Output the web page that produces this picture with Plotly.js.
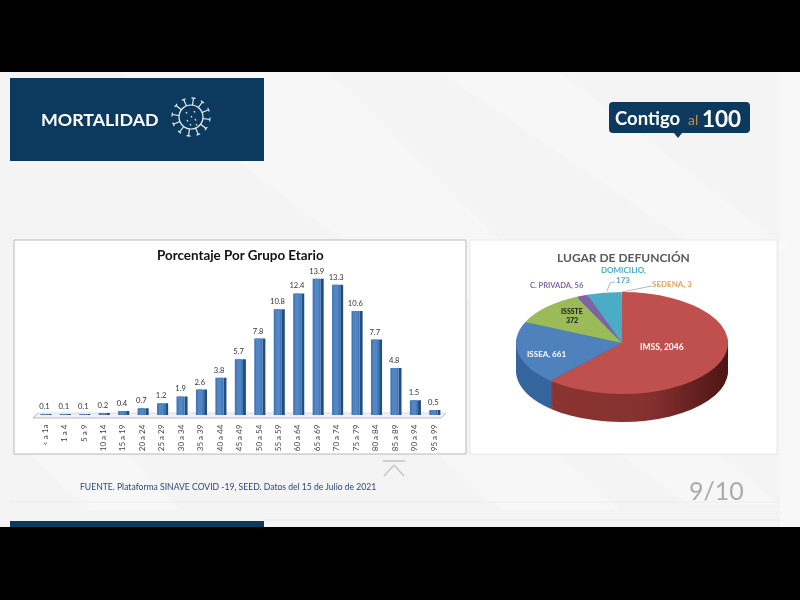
<!DOCTYPE html>
<html><head><meta charset="utf-8">
<script src="https://cdn.plot.ly/plotly-3.0.1.min.js"></script>
<style>html,body{margin:0;padding:0;background:#000}#c{width:800px;height:600px;filter:blur(0.35px)}</style>
</head><body><div id="c"></div>
<script>
const ageGroups=['< a 1a','1 a 4','5 a 9','10 a 14','15 a 19','20 a 24','25 a 29','30 a 34','35 a 39','40 a 44','45 a 49','50 a 54','55 a 59','60 a 64','65 a 69','70 a 74','75 a 79','80 a 84','85 a 89','90 a 94','95 a 99'];
const agePercent=[0.1,0.1,0.1,0.2,0.4,0.7,1.2,1.9,2.6,3.8,5.7,7.8,10.8,12.4,13.9,13.3,10.6,7.7,4.8,1.5,0.5];
const places=['IMSS','ISSEA','ISSSTE','C. PRIVADA','DOMICILIO','SEDENA'];
const deaths=[2046,661,372,56,173,3];
const topColors=['#c0504d','#4f81bd','#9bbb59','#8064a2','#4bacc6','#f79646'];
const rimColors=['#7e2b29','#35659c','#6f8a3a','#5a4477','#327f93','#b06a2e'];

const X=v=>v/800, Y=v=>1-v/600;
const FONT='Lato, "Open Sans", sans-serif';
const shapes=[];
function rect(x0,y0,x1,y1,fill,line,lw){shapes.push({type:'rect',xref:'paper',yref:'paper',x0:X(x0),x1:X(x1),y0:Y(y0),y1:Y(y1),fillcolor:fill,line:{color:line||fill,width:line?(lw||1):0},layer:'below'});}
function seg(x0,y0,x1,y1,color,w){shapes.push({type:'line',xref:'paper',yref:'paper',x0:X(x0),x1:X(x1),y0:Y(y0),y1:Y(y1),line:{color:color,width:w||1},layer:'below'});}
function poly(pts,fill,op){shapes.push({type:'path',xref:'paper',yref:'paper',path:'M'+pts.map(p=>X(p[0])+','+Y(p[1])).join('L')+'Z',fillcolor:fill,opacity:op==null?1:op,line:{width:0},layer:'below'});}

// page background
rect(0,72,800,527,'#f4f4f4');
rect(780,72,800,527,'#f8f8f8');
poly([[120,72],[330,72],[560,300],[420,300]],'#ffffff',0.28);
poly([[440,72],[560,72],[790,250],[700,250]],'#ffffff',0.3);
poly([[30,455],[130,455],[180,510],[90,510]],'#ffffff',0.3);
poly([[440,455],[560,455],[620,510],[500,510]],'#ffffff',0.28);
poly([[620,455],[720,455],[780,505],[690,505]],'#ffffff',0.28);
seg(10,502,780,502,'#ececec',1);
seg(264,520,780,520,'#e6e6e6',1);
// header
rect(10,78,264,161,'#0c3a5e');
rect(10,521,264,527,'#0c3a5e');
// virus icon
const vx=191,vy=117;
shapes.push({type:'circle',xref:'paper',yref:'paper',x0:X(vx-12),x1:X(vx+12),y0:Y(vy-12),y1:Y(vy+12),line:{color:'#f2f6f8',width:1.2},fillcolor:'rgba(0,0,0,0)',layer:'below'});
for(let i=0;i<12;i++){const a=i*Math.PI/6+0.13,c=Math.cos(a),s=Math.sin(a);
  seg(vx+12*c,vy+12*s,vx+19*c,vy+19*s,'#f2f6f8',1.1);
  seg(vx+19*c-2*s,vy+19*s+2*c,vx+19*c+2*s,vy+19*s-2*c,'#f2f6f8',1.1);}
[[-5,-5],[3,-6],[-4,3],[4,2],[0,-1],[5,7],[-1,7]].forEach(d=>seg(vx+d[0],vy+d[1],vx+d[0]+1,vy+d[1]+1.5,'#f2f6f8',1.2));
// logo
shapes.push({type:'path',xref:'paper',yref:'paper',layer:'below',fillcolor:'#0c3a5e',line:{width:0},
 path:`M${X(613)},${Y(102)}L${X(746)},${Y(102)}Q${X(750)},${Y(102)} ${X(750)},${Y(106)}L${X(750)},${Y(129)}Q${X(750)},${Y(133)} ${X(746)},${Y(133)}L${X(682)},${Y(133)}L${X(678)},${Y(138)}L${X(674)},${Y(133)}L${X(613)},${Y(133)}Q${X(609)},${Y(133)} ${X(609)},${Y(129)}L${X(609)},${Y(106)}Q${X(609)},${Y(102)} ${X(613)},${Y(102)}Z`});
// panels
rect(14,240,466,454,'#ffffff','#a8a8a8',0.8);
rect(470,240,777,454,'#ffffff','#e4e4e4',0.8);
// floor of the bar chart
poly([[33,418],[38,413],[446,413],[441,418]],'#eef1f5');
seg(33,418,441,418,'#a9a9a9',0.8);seg(33,418,38,413,'#a9a9a9',0.8);seg(441,418,446,413,'#a9a9a9',0.8);seg(38,413,446,413,'#c9c9c9',0.6);
// chevron
seg(383,461,405,461,'#c8c8c8',1.6);
seg(384,476,394,465,'#c8c8c8',1.6);seg(394,465,404,476,'#c8c8c8',1.6);
// bands
rect(0,0,800,72,'#000000');
rect(0,527,800,600,'#000000');
// pie leaders
[[607,291,610,283],[610,283,615,282],[622,292,652,286]].forEach(l=>seg(l[0],l[1],l[2],l[3],'#a6a6a6',0.8));

const traces=[];
const xdom=[X(35.3),X(443.7)], ydom=[Y(415),Y(268)];
traces.push({type:'bar',x:ageGroups,y:agePercent,width:0.15,offset:0.18,marker:{color:'#234f80',line:{width:0}},hoverinfo:'skip',showlegend:false});
traces.push({type:'bar',x:ageGroups,y:agePercent,width:0.42,offset:-0.24,marker:{color:'#4277b6',line:{width:0}},text:agePercent.map(v=>v.toFixed(1)),textposition:'outside',constraintext:'none',textfont:{family:FONT,size:7.6,color:'#333'},cliponaxis:false,showlegend:false,hoverinfo:'x+y'});
traces.push({type:'bar',x:ageGroups,y:agePercent,width:0.24,offset:-0.15,marker:{color:'#5286c4',line:{width:0}},hoverinfo:'skip',showlegend:false});

// pie: rim layers, then top face
const RX=106,CX=622,DCY=300,TOPCY=343,RY=51,RIM=28,STEP=2;
const dom={x:[X(CX-RX),X(CX+RX)],y:[Y(DCY+RX),Y(DCY-RX)]};
const layers=Math.ceil(RIM/STEP);
for(let i=0;i<layers;i++)traces.push({type:'pie',labels:places,values:deaths,sort:false,direction:'clockwise',rotation:0,domain:dom,textinfo:'none',hoverinfo:'skip',showlegend:false,marker:{colors:rimColors,line:{width:0}}});
traces.push({type:'pie',labels:places,values:deaths,sort:false,direction:'clockwise',rotation:0,domain:dom,textinfo:'none',hoverinfo:'label+value',showlegend:false,marker:{colors:topColors,line:{width:0}}});

function note(text,x,y,size,color,bold,anchor){return {text:bold?'<b>'+text+'</b>':text,xref:'paper',yref:'paper',x:X(x),y:Y(y),xanchor:anchor||'center',yanchor:'middle',showarrow:false,font:{family:FONT,size:size,color:color}};}
const annotations=[
 note('MORTALIDAD',39,119,17.8,'#ffffff',true,'left'),
 note('Contigo',613,118,18.5,'#ffffff',true,'left'),
 note('al',693,119,14,'#c98a4b',false,'center'),
 note('100',700,118,22.5,'#ffffff',true,'left'),
 note('Porcentaje Por Grupo Etario',240,255,13.4,'#111111',true),
 note('LUGAR DE DEFUNCIÓN',623,257,12,'#595959',true),
 note(places[4]+',',623,270,8,'#4bacc6',true),
 note(String(deaths[4]),623,280,8,'#4bacc6',true),
 note(places[3]+', '+deaths[3],557,285,7.5,'#8064a2',true),
 note(places[5]+', '+deaths[5],672,284,8,'#e8a05c',true),
 note(places[2],572,311,7,'#111111',true),
 note(String(deaths[2]),572,320,7,'#111111',true),
 note(places[1]+', '+deaths[1],546,354,8,'#ffffff',true),
 note(places[0]+', '+deaths[0],662,347,8.5,'#ffffff',true),
 note('FUENTE. Plataforma SINAVE COVID -19, SEED. Datos del 15 de Julio de 2021',78,487,8.6,'#274a7a',false,'left'),
 note('9/10',716,490,25,'#ababab',false)
];

const layout={width:800,height:600,margin:{l:0,r:0,t:0,b:0},paper_bgcolor:'#000',plot_bgcolor:'rgba(0,0,0,0)',barmode:'overlay',showlegend:false,
 xaxis:{domain:xdom,type:'category',categoryorder:'array',categoryarray:ageGroups,tickangle:-90,ticklen:0,showline:false,showgrid:false,zeroline:false,ticklabelstandoff:7,tickfont:{family:FONT,size:8,color:'#444'},automargin:false,fixedrange:true},
 yaxis:{domain:ydom,range:[0,15],visible:false,fixedrange:true},
 shapes:shapes,annotations:annotations};

Plotly.newPlot('c',traces,layout,{displayModeBar:false,staticPlot:true}).then(()=>{
  const k=RY/RX;
  const svg=document.querySelector('#c .main-svg');
  const NS='http://www.w3.org/2000/svg';
  const defs=document.createElementNS(NS,'defs');
  rimColors.forEach((col,n)=>{
    const g=document.createElementNS(NS,'linearGradient');
    g.setAttribute('id','rim'+n);
    const stops=n===0?[[0,'#8a3331'],[0.55,'#863130'],[1,'#4c1514']]:[[0,col],[1,col]];
    stops.forEach(s=>{const st=document.createElementNS(NS,'stop');st.setAttribute('offset',s[0]);st.setAttribute('stop-color',s[1]);g.appendChild(st);});
    defs.appendChild(g);
  });
  svg.insertBefore(defs,svg.firstChild);
  const groups=document.querySelectorAll('#c .pielayer > g.trace');
  groups.forEach((g,i)=>{
    const off=i<layers?RIM-i*STEP:0;
    g.setAttribute('transform',`translate(0,${TOPCY+off}) scale(1,${k}) translate(0,${-DCY})`);
    if(i<layers){g.querySelectorAll('path.surface').forEach((p,n)=>{p.style.fill='url(#rim'+n+')';});}
  });
});
</script></body></html>
